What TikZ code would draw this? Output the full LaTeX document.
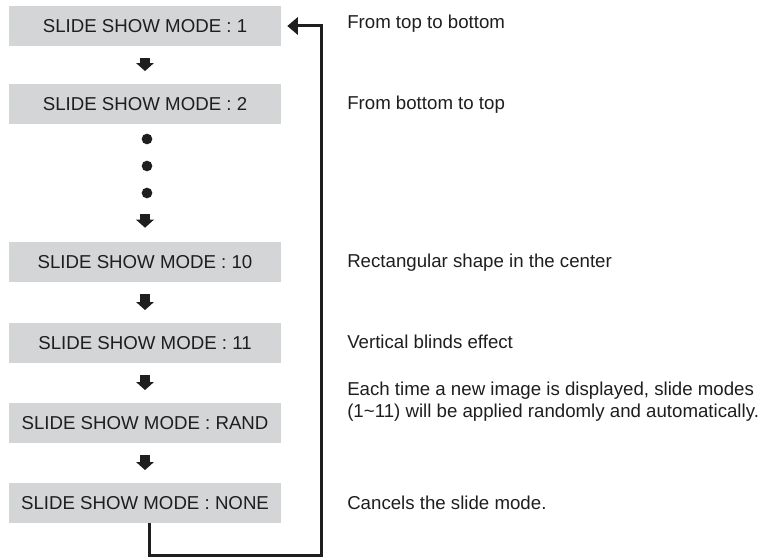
\documentclass[tikz,border=0pt]{standalone}
\usepackage{fontspec}
\setmainfont{Liberation Sans}
\usetikzlibrary{arrows.meta}
\usetikzlibrary{positioning}
\definecolor{modegray}{RGB}{212,213,215}
\definecolor{inkblack}{RGB}{30,30,30}
\tikzset{
    modebox/.style = {fill=modegray,minimum width=204pt,minimum height=30pt,inner sep=0,
        font=\fontsize{14}{16}\selectfont,text=inkblack},
    modedesc/.style = {anchor=base west,inner sep=0,font=\fontsize{14}{16.5}\selectfont,
        text=inkblack,align=left},
    steparrow/.style = {draw=inkblack,line width=7pt,-{Triangle[width=13pt,length=6pt]},
        shorten <=9pt,shorten >=9.5pt},
    loopback/.style = {draw=inkblack,line width=2.25pt,-{Triangle[width=13pt,length=8pt]}},
    waitdot/.style = {circle,fill=inkblack,inner sep=0,minimum size=8pt}
}

\begin{document}
\begin{tikzpicture}[x=0.75pt,y=-0.75pt]
    \useasboundingbox (0,0) rectangle (768,560);
    \newcommand\mx{145}
    \newcommand\dx{347}
    % Modes
    \node[modebox] (m1) at (\mx,26) {SLIDE SHOW MODE : 1};
    \node[modebox] (m2) at (\mx,104) {SLIDE SHOW MODE : 2};
    \node[modebox] (m10) at (\mx,262) {SLIDE SHOW MODE : 10};
    \node[modebox] (m11) at (\mx,343) {SLIDE SHOW MODE : 11};
    \node[modebox] (mrand) at (\mx,423) {SLIDE SHOW MODE : RAND};
    \node[modebox] (mnone) at (\mx,503) {SLIDE SHOW MODE : NONE};
    % Skipped modes
    \foreach \i/\y in {1/139,2/166,3/193}
        \node[waitdot] (dot\i) at (147,\y) {};
    \coordinate (dotsend) at (\mx,214);
    % Descriptions
    \node[modedesc] (d1) at (\dx,29) {From top to bottom};
    \node[modedesc] (d2) at (\dx,109) {From bottom to top};
    \node[modedesc] (d10) at (\dx,267) {Rectangular shape in the center};
    \node[modedesc] (d11) at (\dx,348) {Vertical blinds effect};
    \node[modedesc] (drand) at (\dx,417) {Each time a new image is displayed, slide modes\\(1\char`\~11) will be applied randomly and automatically.};
    \node[modedesc] (dnone) at (\dx,509) {Cancels the slide mode.};
    % Steps
    \foreach \src/\dest in {m1/m2,m10/m11,m11/mrand,mrand/mnone}
        \draw[steparrow] (\src) to (\dest);
    \draw[steparrow,shorten <=0pt,shorten >=10.5pt] (dotsend) to (m10);
    % Back to the first mode
    \coordinate (lp1) at (149,555);
    \coordinate (lp2) at (321,555);
    \coordinate (lp3) at (321,26);
    \draw[loopback,shorten >=4.5pt] (mnone.south -| lp1) -- (lp1) -- (lp2) -- (lp3) -- (m1.east);
\end{tikzpicture}
\end{document}
